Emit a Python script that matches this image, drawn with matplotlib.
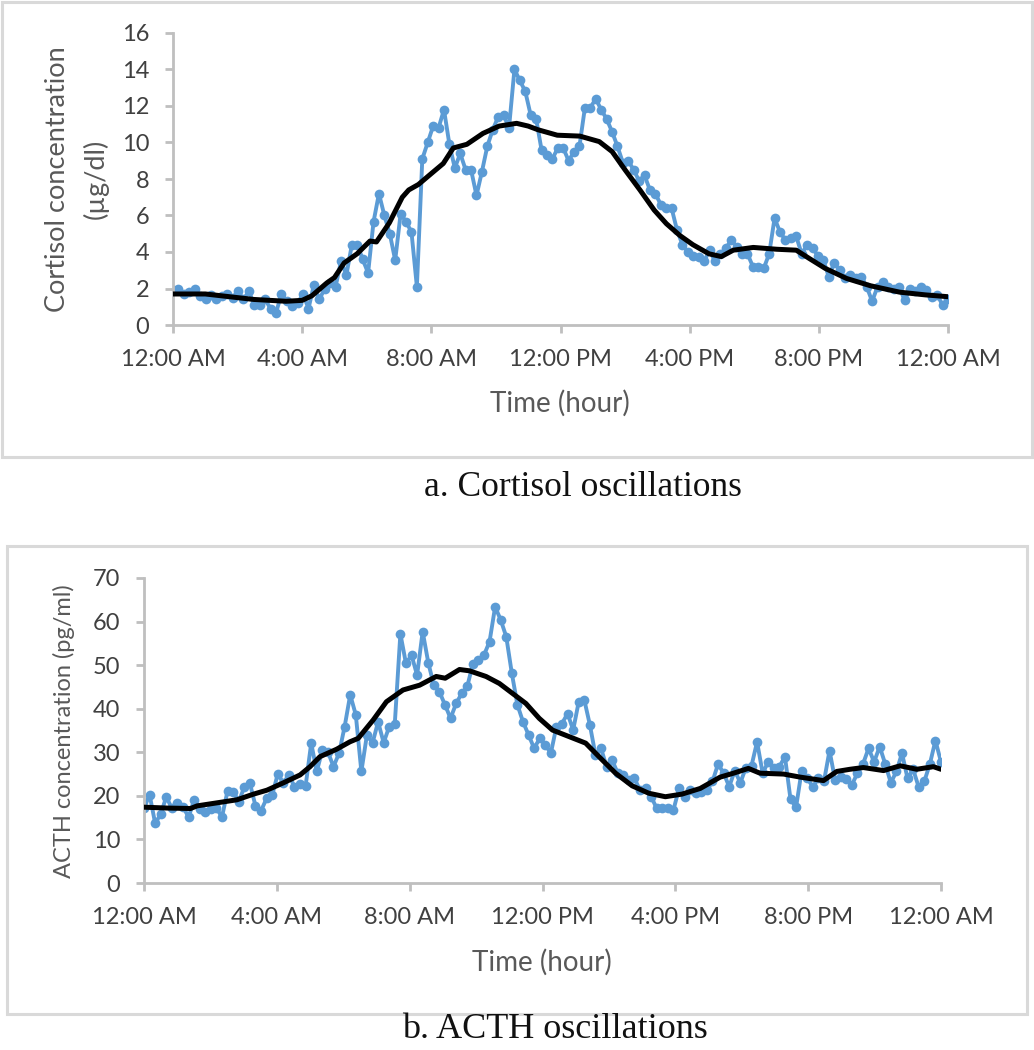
import numpy as np
import matplotlib
matplotlib.use("Agg")
import matplotlib.pyplot as plt
from matplotlib.patches import Rectangle

# cortisol samples (µg/dl), roughly every 10 minutes over 24 h
cortisol = [
    1.9, 2.0, 1.7, 1.8, 1.95, 1.6, 1.4, 1.65, 1.4, 1.6,
    1.7, 1.5, 1.85, 1.4, 1.85, 1.1, 1.1, 1.4, 0.9, 0.65,
    1.7, 1.3, 1.05, 1.2, 1.7, 0.9, 2.2, 1.4, 2.0, 2.3,
    2.1, 3.5, 2.75, 4.4, 4.4, 3.6, 2.85, 5.65, 7.2, 6.0,
    5.0, 3.55, 6.1, 5.65, 5.1, 2.1, 9.1, 10.0,
    10.9, 10.8, 11.8, 9.9, 8.6, 9.4, 8.5, 8.5, 7.1, 8.4,
    9.8, 10.7, 11.4, 11.5, 10.8, 14.0, 13.4, 12.8, 11.5, 11.3,
    9.6, 9.3, 9.1, 9.7, 9.7, 9.0, 9.5, 9.8, 11.9, 11.9,
    12.4, 11.8, 11.3, 10.6, 9.8, 8.9, 9.0, 8.5, 7.9, 8.2,
    7.4, 7.2, 6.6, 6.4, 6.4, 5.2,
    4.4, 4.0, 3.8, 3.7, 3.5, 4.1, 3.5, 3.9, 4.2, 4.65,
    4.3, 3.9, 3.9, 3.2, 3.2, 3.1, 3.9, 5.85, 5.1, 4.65,
    4.75, 4.85, 3.9, 4.4, 4.2, 3.8, 3.55, 2.65, 3.4, 3.0,
    2.55, 2.75, 2.55, 2.65, 2.1, 1.3, 2.1, 2.35, 2.1, 2.0,
    2.1, 1.35, 2.0, 1.85, 2.1, 1.9, 1.55, 1.65, 1.1, 1.45,
]

# smoothed cortisol trend (hour, value)
cort_trend_h = [0, 0.5, 1.0, 1.5, 2.0, 2.5, 3.0, 3.5, 4.0, 4.3, 4.76, 5.0, 5.3, 5.7,
                6.1, 6.3, 6.7, 7.1, 7.3, 7.6, 8.0, 8.37, 8.68, 9.1, 9.6, 10.1, 10.64,
                11.0, 11.3, 11.9, 12.6, 13.2, 13.6, 14.0, 14.46, 14.9, 15.28, 15.7,
                16.1, 16.6, 16.98, 17.35, 17.97, 18.7, 19.3, 19.7, 20.2, 20.86, 21.6,
                22.5, 23.3, 24.0]
cort_trend_v = [1.7, 1.7, 1.7, 1.6, 1.5, 1.4, 1.35, 1.3, 1.35, 1.6, 2.3, 2.6, 3.4, 3.9,
                4.6, 4.55, 5.6, 7.0, 7.4, 7.7, 8.3, 8.85, 9.7, 9.9, 10.5, 10.9, 11.05,
                10.9, 10.7, 10.4, 10.35, 10.05, 9.5, 8.5, 7.4, 6.3, 5.55, 4.9,
                4.4, 3.9, 3.75, 4.1, 4.25, 4.15, 4.1, 3.65, 3.1, 2.55, 2.15,
                1.8, 1.65, 1.55]

# ACTH samples (pg/ml)
acth = [
    17.1, 20.3, 13.7, 15.8, 19.8, 17.1, 18.4, 17.5, 15.1, 19.1,
    16.9, 16.4, 16.9, 17.1, 15.2, 21.2, 21.0, 18.7, 22.0, 22.9,
    17.7, 16.6, 19.4, 20.2, 25.0, 23.0, 24.8, 22.1, 22.7, 22.3,
    32.1, 25.6, 30.5, 30.1, 26.7, 29.8, 35.9, 43.2, 38.6, 25.6,
    34.0, 32.1, 37.0, 32.2, 35.9, 36.6,
    57.2, 50.4, 52.3, 47.7, 57.7, 50.6, 45.4, 43.9, 40.9, 37.8,
    41.2, 43.5, 45.1, 50.3, 51.2, 52.3, 55.4, 63.4, 60.4, 56.5,
    48.1, 40.9, 37.0, 34.0, 30.9, 33.2, 31.7, 29.8, 35.9, 36.6,
    38.9, 35.1, 41.6, 42.0, 36.3, 29.4, 30.9, 26.7, 28.2, 25.2,
    24.8, 23.6, 24.0, 21.3, 21.7, 19.8, 17.1, 17.1, 17.1,
    16.8, 21.7, 19.8, 21.3, 20.6, 21.0, 21.3, 23.3, 27.3, 25.2,
    22.1, 25.8, 23.0, 26.5, 26.9, 32.4, 25.2, 27.8, 26.3, 26.7,
    29.0, 19.2, 17.4, 25.8, 24.0, 22.1, 24.0, 23.3, 30.4, 23.6,
    24.4, 23.8, 22.5, 25.2, 27.3, 30.9, 27.8, 31.3, 27.3, 23.0,
    25.6, 29.8, 24.0, 26.1, 22.0, 23.3, 27.3, 32.7, 27.8,
]

acth_trend_h = [0, 0.7, 1.4, 1.6, 2.2, 2.8, 3.3, 3.7, 4.2, 4.7, 5.0, 5.3, 5.8, 6.2,
                6.45, 6.9, 7.3, 7.8, 8.3, 8.8, 9.07, 9.5, 9.8, 10.3, 10.7, 11.1, 11.5,
                11.9, 12.3, 12.8, 13.3, 13.7, 14.2, 14.7, 15.2, 15.7, 16.2, 16.75,
                17.35, 17.75, 18.2, 18.55, 19.26, 19.76, 20.46, 20.86, 21.26, 21.66,
                22.27, 22.77, 23.27, 23.77, 24.0]
acth_trend_v = [17.4, 17.2, 17.1, 17.7, 18.4, 19.1, 20.4, 21.3, 23.0, 24.8, 26.7, 29.0, 30.7, 32.4,
                33.2, 37.4, 41.6, 44.3, 45.4, 47.4, 47.0, 49.0, 48.7, 47.4, 45.8, 43.5, 41.2,
                37.8, 35.1, 33.6, 32.1, 29.0, 25.2, 22.3, 20.6, 19.8, 20.4, 21.7,
                24.3, 25.2, 26.3, 25.2, 25.0, 24.3, 23.5, 25.6, 26.1, 26.5,
                25.8, 26.9, 26.1, 26.7, 26.1]

tick_hours = [0, 4, 8, 12, 16, 20, 24]
tick_labels = ["12:00 AM", "4:00 AM", "8:00 AM", "12:00 PM", "4:00 PM", "8:00 PM", "12:00 AM"]

W, H = 1034, 1050
BLUE = "#5B9BD5"
AXIS_GRAY = "#BFBFBF"
TEXT = "#404040"
TITLE = "#595959"
FONT = "Lato"

plt.rcParams["font.family"] = [FONT, "DejaVu Sans"]

fig = plt.figure(figsize=(W / 100, H / 100), dpi=100)


def fx(x):
    return x / W


def fy(y):
    return 1 - y / H


def add_box(x0, y0, x1, y1):
    fig.patches.append(Rectangle((fx(x0), fy(y1)), fx(x1 - x0), (y1 - y0) / H,
                                 transform=fig.transFigure, fill=False,
                                 edgecolor="#D9D9D9", linewidth=2.2))


def make_axes(left, top, right, bottom, values, trend_h, trend_v, ymax, ystep):
    ax = fig.add_axes([fx(left), fy(bottom), fx(right - left), (bottom - top) / H])
    t = np.linspace(0, 24, len(values))
    ax.plot(t, values, color=BLUE, linewidth=2.8, marker="o", markersize=7.0,
            markeredgewidth=0, zorder=2)
    ax.plot(trend_h, trend_v, color="black", linewidth=3.6, zorder=3,
            solid_capstyle="round", solid_joinstyle="round")
    ax.set_xlim(0, 24)
    ax.set_ylim(0, ymax)
    ax.set_xticks(tick_hours)
    ax.set_xticklabels(tick_labels)
    ax.set_yticks(np.arange(0, ymax + 0.1, ystep))
    for s in ("top", "right"):
        ax.spines[s].set_visible(False)
    for s in ("left", "bottom"):
        ax.spines[s].set_color(AXIS_GRAY)
        ax.spines[s].set_linewidth(2.0)
    ax.tick_params(axis="both", colors=AXIS_GRAY, width=2.0, length=6,
                   labelcolor=TEXT, labelsize=17)
    ax.tick_params(axis="x", pad=11)
    ax.tick_params(axis="y", pad=11)
    ax.set_facecolor("none")
    return ax


# panel a
add_box(2, 2, 1032, 457)
make_axes(173, 33, 948, 325, cortisol, cort_trend_h, cort_trend_v, 16, 2)
fig.text(fx(58), fy(179), "Cortisol concentration", rotation=90, ha="center", va="center",
         fontsize=19.5, color=TITLE)
fig.text(fx(96), fy(179), "(µg/dl)", rotation=90, ha="center", va="center",
         fontsize=19.5, color=TITLE)
fig.text(fx(560), fy(403), "Time (hour)", ha="center", va="center", fontsize=20, color=TITLE)
fig.text(fx(583), fy(487), "a. Cortisol oscillations", ha="center", va="center",
         fontsize=25.5, family="Liberation Serif", color="#111111")

# panel b
add_box(7, 546, 1027, 1014)
make_axes(144, 578, 941, 883, acth, acth_trend_h, acth_trend_v, 70, 10)
fig.text(fx(64), fy(731), "ACTH concentration (pg/ml)", rotation=90, ha="center", va="center",
         fontsize=17, color=TITLE)
fig.text(fx(542), fy(962), "Time (hour)", ha="center", va="center", fontsize=20, color=TITLE)
fig.text(fx(555), fy(1029), "b. ACTH oscillations", ha="center", va="center",
         fontsize=26, family="Liberation Serif", color="#111111")

fig.savefig("out.png", dpi=100, facecolor="white")
